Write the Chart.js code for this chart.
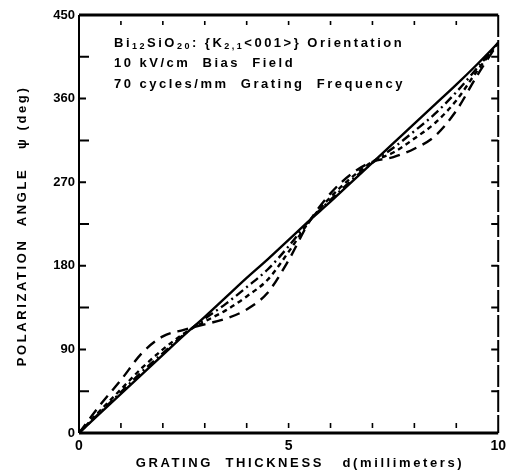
<!DOCTYPE html>
<html lang="en">
<head>
<meta charset="utf-8">
<title>Polarization angle vs grating thickness</title>
<script src="https://cdn.jsdelivr.net/npm/chart.js@4.4.1/dist/chart.umd.min.js"></script>
<style>
  html, body { margin: 0; padding: 0; background: #fff; }
  #wrap { width: 511px; height: 476px; }
</style>
</head>
<body>
<div id="wrap"><canvas id="chart" width="511" height="476"></canvas></div>
<script>
// grating thickness d (mm)
const thickness = [0, 0.5, 1, 1.5, 2, 2.5, 3, 3.5, 4, 4.5, 5, 5.5, 6, 6.5, 7, 7.5, 8, 8.5, 9, 9.5, 10];
// polarization angle psi (deg), one array per curve
const solidAngle     = [0, 21, 42, 63, 84, 105, 125, 146, 167, 187, 208, 229, 249, 270, 291, 312, 333, 354, 375, 397, 420];
const dashDotAngle   = [0, 22, 44, 66, 86, 106, 123, 139, 157, 176, 201, 229, 251, 272, 291, 307, 325, 344, 367, 393, 420];
const shortDashAngle = [0, 24, 47, 70, 90, 107, 120, 132, 147, 165, 195, 228, 254, 275, 292, 302, 317, 334, 358, 390, 420];
const longDashAngle  = [0, 30, 57, 86, 104, 111, 117, 123, 133, 151, 186, 228, 258, 279, 292, 297, 306, 320, 347, 385, 420];
// tick labels
const yTickLabels = [0, 90, 180, 270, 360, 450];
const xTickLabels = [0, 5, 10];

const FONT = '"Liberation Sans", Arial, sans-serif';

function pts(arr) {
  return thickness.map((d, i) => ({ x: d, y: arr[i] }));
}

function line(arr, dash) {
  return {
    data: pts(arr),
    borderColor: '#000',
    borderWidth: 2.4,
    borderDash: dash,
    pointRadius: 0,
    fill: false,
    cubicInterpolationMode: 'monotone'
  };
}

// draws text pieces, some as subscripts
function drawRich(ctx, x, y, parts) {
  parts.forEach(p => {
    if (p.sub) {
      ctx.font = 'bold 9px ' + FONT;
      ctx.fillText(p.t, x, y + 4);
    } else {
      ctx.font = 'bold 13px ' + FONT;
      ctx.fillText(p.t, x, y);
    }
    x += ctx.measureText(p.t).width;
  });
}

const framePlugin = {
  id: 'frame',
  afterDraw(chart) {
    const ctx = chart.ctx;
    const a = chart.chartArea;
    const xs = chart.scales.x, ys = chart.scales.y;
    ctx.save();
    ctx.strokeStyle = '#000';
    ctx.fillStyle = '#000';

    // box
    ctx.lineWidth = 3;
    ctx.beginPath();
    ctx.moveTo(a.left, a.bottom); ctx.lineTo(a.right, a.bottom);
    ctx.moveTo(a.left, a.top); ctx.lineTo(a.right, a.top);
    ctx.stroke();
    ctx.lineWidth = 2;
    ctx.beginPath();
    ctx.moveTo(a.left, a.top); ctx.lineTo(a.left, a.bottom);
    ctx.stroke();
    ctx.setLineDash([22, 3]);
    ctx.beginPath();
    ctx.moveTo(a.right, a.top); ctx.lineTo(a.right, a.bottom);
    ctx.stroke();
    ctx.setLineDash([]);

    // inward ticks on y axes, every 45 deg
    ctx.lineWidth = 2;
    for (let v = 45; v < 450; v += 45) {
      const py = ys.getPixelForValue(v);
      const len = (v % 90 === 0) ? 7 : 10;
      ctx.beginPath();
      ctx.moveTo(a.left, py); ctx.lineTo(a.left + len, py);
      ctx.moveTo(a.right, py); ctx.lineTo(a.right - 7, py);
      ctx.stroke();
    }
    // inward ticks on x axes, every 1 mm
    ctx.lineWidth = 1.6;
    for (let d = 1; d < 10; d++) {
      const px = xs.getPixelForValue(d);
      ctx.beginPath();
      ctx.moveTo(px, a.bottom - 5); ctx.lineTo(px, a.bottom - 10);
      ctx.moveTo(px, a.top + 6); ctx.lineTo(px, a.top + 10);
      ctx.stroke();
    }

    // annotation
    ctx.textBaseline = 'middle';
    ctx.textAlign = 'left';
    ctx.letterSpacing = '2.5px';
    drawRich(ctx, 114, 43, [
      { t: 'Bi' }, { t: '12', sub: true }, { t: 'SiO' }, { t: '20', sub: true },
      { t: ': {K' }, { t: '2,1', sub: true }, { t: '<001>} Orientation' }
    ]);
    drawRich(ctx, 114, 63, [{ t: '10 kV/cm  Bias  Field' }]);
    drawRich(ctx, 114, 84, [{ t: '70 cycles/mm  Grating  Frequency' }]);

    // axis titles
    ctx.font = 'bold 13px ' + FONT;
    ctx.letterSpacing = '2.6px';
    ctx.textAlign = 'center';
    ctx.fillText('GRATING  THICKNESS   d(millimeters)', 300, 463);
    ctx.translate(22, 226);
    ctx.rotate(-Math.PI / 2);
    ctx.fillText('POLARIZATION  ANGLE   \u03c8 (deg)', 0, 0);
    ctx.restore();
  }
};

new Chart(document.getElementById('chart'), {
  type: 'line',
  data: {
    datasets: [
      line(solidAngle, []),
      line(dashDotAngle, [9, 4, 2, 4]),
      line(shortDashAngle, [5, 4]),
      line(longDashAngle, [11, 7])
    ]
  },
  options: {
    responsive: false,
    animation: false,
    layout: { padding: { top: 15, right: 9, left: 0, bottom: 0 } },
    plugins: { legend: { display: false }, tooltip: { enabled: false } },
    scales: {
      x: {
        type: 'linear',
        min: 0, max: 10,
        grid: { display: false, drawTicks: false },
        border: { display: false },
        ticks: {
          stepSize: 1,
          padding: 5,
          color: '#000',
          font: { family: FONT, size: 14, weight: 'bold' },
          callback: v => xTickLabels.includes(v) ? String(v) : ''
        },
        afterFit: s => { s.height = 43; }
      },
      y: {
        min: 0, max: 450,
        grid: { display: false, drawTicks: false },
        border: { display: false },
        ticks: {
          stepSize: 45,
          padding: 4,
          color: '#000',
          font: { family: FONT, size: 13, weight: 'bold' },
          callback: v => yTickLabels.includes(v) ? String(v) : ''
        },
        afterFit: s => { s.width = 79; }
      }
    }
  },
  plugins: [framePlugin]
});
</script>
</body>
</html>
